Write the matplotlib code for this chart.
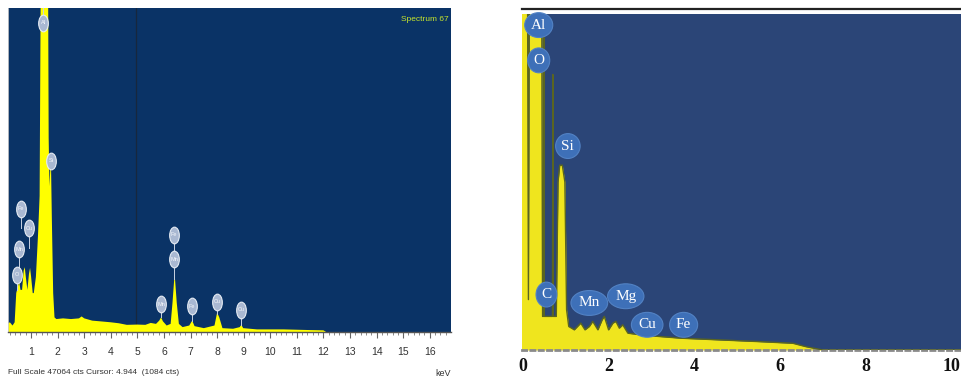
"""Two EDS spectra side by side: instrument screen (left) and published spectrum (right)."""

import numpy as np
import matplotlib
matplotlib.use("Agg")
import matplotlib.pyplot as plt
from matplotlib.path import Path
from matplotlib.transforms import Affine2D

# ---- left spectrum (keV, counts), full scale 47064 cts ----
left_kev = [0.10, 0.20, 0.30, 0.38, 0.44, 0.50, 0.55, 0.60, 0.66, 0.72, 0.76, 0.80,
            0.86, 0.92, 0.96, 1.00, 1.06, 1.10, 1.18, 1.26, 1.32, 1.36, 1.45, 1.55,
            1.64, 1.66, 1.69, 1.72, 1.75, 1.78, 1.83, 1.88, 1.95, 2.2, 2.5, 2.8,
            2.9, 3.0, 3.3, 3.6, 4.0, 4.3, 4.6, 5.0, 5.3, 5.5, 5.7, 5.82, 5.89,
            5.96, 6.1, 6.25, 6.32, 6.40, 6.48, 6.56, 6.7, 6.95, 7.06, 7.15, 7.5,
            7.9, 8.00, 8.08, 8.2, 8.6, 8.85, 8.91, 8.98, 9.5, 10.5, 11.5, 12.0,
            12.1, 16.8]
left_cts = [1180, 1410, 940, 1410, 5650, 6590, 7300, 6120, 6120, 8940, 9410, 8000,
            6120, 8470, 9320, 8000, 5650, 5650, 8000, 14120, 19770, 49420, 58830, 56480,
            49420, 28240, 21180, 23530, 24000, 16470, 5650, 2120, 1880, 1980, 1880, 1980,
            2260, 1980, 1650, 1550, 1410, 1270, 1040, 1080, 1040, 1320, 1180, 1650, 2120,
            1550, 940, 1180, 4240, 8470, 4240, 1180, 710, 940, 1650, 850, 560,
            940, 2820, 2120, 560, 470, 710, 1040, 560, 380, 380, 280, 240,
            0, 0]
left_full_scale = 47064
left_cursor_kev = 4.944
left_ticks = list(range(1, 17))

left_label_names = ["Al", "Si", "Fe", "Cu", "Mn", "O", "Fe", "Mn", "Mn", "Fe", "Cu", "Cu"]
left_label_kev = [1.45, 1.75, 0.62, 0.92, 0.55, 0.47, 6.38, 6.38, 5.89, 7.05, 7.99, 8.90]
left_label_cts = [44900, 24900, 17900, 15060, 12050, 8280, 14120, 10590, 4050, 3770, 4380, 3200]

# ---- right spectrum (keV, relative counts 0-1000) ----
right_kev = [-0.05, 0.11, 0.13, 0.15, 0.44, 0.46, 0.48, 0.49, 0.50, 0.60, 0.69,
             0.70, 0.71, 0.78, 0.82, 0.86, 0.92, 0.98, 1.02, 1.07, 1.20, 1.35, 1.45,
             1.55, 1.63, 1.75, 1.85, 1.90, 2.00, 2.10, 2.17, 2.25, 2.33, 2.45, 2.75,
             3.2, 3.7, 4.6, 5.5, 6.3, 6.6, 7.0, 10.3]
right_cts = [1050, 1050, 150, 1050, 1050, 100, 100, 930, 100, 100, 100,
             820, 100, 100, 500, 550, 550, 500, 120, 70, 60, 80, 60,
             70, 85, 60, 90, 100, 60, 80, 85, 65, 75, 50, 45,
             40, 35, 30, 25, 20, 10, 0, 0]
right_ticks = [0, 2, 4, 6, 8, 10]

right_label_names = ["Al", "O", "Si", "C", "Mn", "Mg", "Cu", "Fe"]
right_label_kev = [0.37, 0.37, 1.05, 0.55, 1.55, 2.40, 2.90, 3.75]
right_label_cts = [967, 862, 607, 165, 140, 160, 75, 75]

SANS = ["Liberation Sans Narrow", "Liberation Sans", "DejaVu Sans"]
SERIF = ["Liberation Serif", "DejaVu Serif"]

fig = plt.figure(figsize=(9.61, 3.79), dpi=100)
fig.patch.set_facecolor("white")

# ================= left panel =================
ax1 = fig.add_axes([8 / 961, 47 / 379, 443 / 961, 324 / 379])
ax1.set_facecolor("#0a3366")
ax1.fill_between(left_kev, left_cts, color="#ffff00", lw=0, zorder=2)
ax1.axvline(left_cursor_kev, color="#17273d", lw=0.9, zorder=1)
ax1.set_xlim(0.13, 16.8)
ax1.set_ylim(0, left_full_scale)

ax1.set_xticks(left_ticks)
ax1.set_xticks(np.arange(0.2, 16.8, 0.2), minor=True)
ax1.set_yticks([])
ax1.tick_params(axis="x", which="major", direction="out", length=4, width=0.8,
                color="#666666", labelsize=7.5, labelcolor="#333333", pad=7)
ax1.tick_params(axis="x", which="minor", direction="out", length=2.5, width=0.6,
                color="#777777")
for lab in ax1.get_xticklabels():
    lab.set_family(SANS)
for side in ("top", "right"):
    ax1.spines[side].set_visible(False)
ax1.spines["bottom"].set_color("#555555")
ax1.spines["bottom"].set_linewidth(1.0)
ax1.spines["left"].set_color("#cccccc")
ax1.spines["left"].set_linewidth(0.6)

# element markers: small tall ellipses with a short stem down to the peak
tall_ellipse = Path.unit_circle().transformed(Affine2D().scale(0.58, 1.0))
stem = 0.06 * left_full_scale
for name, e, c in zip(left_label_names, left_label_kev, left_label_cts):
    peak = min(np.interp(e, left_kev, left_cts), left_full_scale)
    ax1.plot([e, e], [max(peak, c - stem), c], color="#c8d2e2", lw=0.7, zorder=3)
    ax1.plot(e, c, marker=tall_ellipse, markersize=12, color="#a9b8d2",
             markeredgecolor="#e6ecf4", markeredgewidth=0.8, zorder=4)
    ax1.text(e, c, name, fontsize=4, color="#f4f6fa", ha="center", va="center",
             family=SANS, zorder=5)

ax1.text(0.995, 0.975, "Spectrum 67", transform=ax1.transAxes, ha="right", va="top",
         fontsize=6, color="#c6e52c", family=SANS)
fig.text(8 / 961, 1 - 372 / 379, "Full Scale 47064 cts Cursor: 4.944  (1084 cts)",
         ha="left", va="center", fontsize=6, color="#333333", family=SANS)
fig.text(451 / 961, 1 - 373 / 379, "keV", ha="right", va="center", fontsize=6.5,
         color="#333333", family=SANS)

# ================= right panel =================
ax2 = fig.add_axes([522 / 961, 29 / 379, 439 / 961, 336 / 379])
ax2.set_facecolor("#2b4577")
ax2.fill_between(right_kev, right_cts, color="#efe51e", lw=0, zorder=2)
ax2.plot(right_kev, right_cts, color="#5a6520", lw=1.0, zorder=3)
ax2.set_xlim(-0.02, 10.22)
ax2.set_ylim(0, 1000)

ax2.set_xticks(right_ticks)
ax2.set_yticks([])
ax2.tick_params(axis="x", length=0, labelsize=13, labelcolor="#111111", pad=6)
for lab in ax2.get_xticklabels():
    lab.set_family(SERIF)
    lab.set_fontweight("bold")
for side in ("top", "right", "left"):
    ax2.spines[side].set_visible(False)
ax2.spines["bottom"].set_color("#8a8a8a")
ax2.spines["bottom"].set_linewidth(2.0)
ax2.spines["bottom"].set_linestyle((0, (1.5, 1.5)))
ax2.plot([0, 1], [1.016, 1.016], transform=ax2.transAxes, color="#222222", lw=1.6,
         clip_on=False)

for name, e, c in zip(right_label_names, right_label_kev, right_label_cts):
    ax2.text(e, c, name, fontsize=11, color="white", ha="center", va="center",
             family=SERIF, zorder=5,
             bbox=dict(boxstyle="ellipse,pad=0.15", fc="#3e70b8", ec="#5282c4", lw=0.8))

fig.savefig("out.png", dpi=100, facecolor="white")
